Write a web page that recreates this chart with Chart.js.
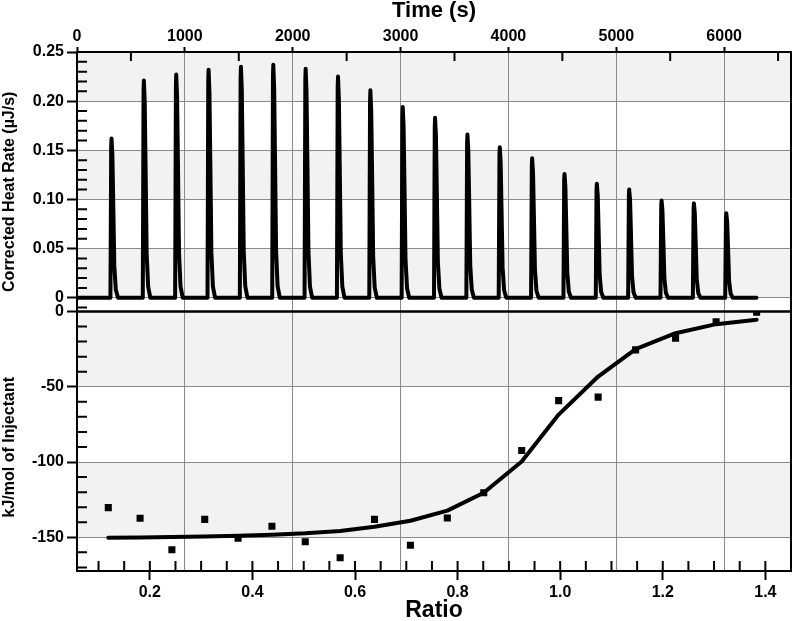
<!DOCTYPE html>
<html>
<head>
<meta charset="utf-8">
<script src="https://cdn.jsdelivr.net/npm/chart.js@4.4.1/dist/chart.umd.min.js"></script>
<style>
  html, body { margin: 0; padding: 0; background: #fff; }
</style>
</head>
<body>
<canvas id="itc" width="796" height="621"></canvas>
<script>
// raw thermogram: injection times (s) and peak heat rates (uJ/s)
var injTime = [320, 620, 920, 1220, 1520, 1820, 2120, 2420, 2720, 3020,
               3320, 3620, 3920, 4220, 4520, 4820, 5120, 5420, 5720, 6020];
var peakRate = [0.162, 0.221, 0.227, 0.232, 0.235, 0.237, 0.233, 0.225, 0.211, 0.194,
                0.183, 0.166, 0.153, 0.142, 0.126, 0.116, 0.110, 0.099, 0.096, 0.086];
var runEnd = 6300;

// integrated heats and fitted curve
var molarRatio = [0.119, 0.181, 0.243, 0.307, 0.372, 0.438, 0.503, 0.571, 0.638, 0.708,
                  0.780, 0.851, 0.925, 0.997, 1.074, 1.147, 1.225, 1.304, 1.383];
var injHeat = [-130.3, -137.4, -158.3, -138.1, -150.7, -142.7, -153.0, -163.6, -138.1, -155.3,
               -137.2, -120.4, -92.4, -59.2, -56.9, -25.5, -17.7, -6.8, -0.4];
var fitHeat = [-150.3, -150.1, -149.8, -149.4, -148.9, -148.3, -147.4, -145.8, -143.0, -139.0,
               -132.3, -120.4, -99.7, -68.5, -43.2, -25.0, -14.4, -8.4, -5.5];

// tick labels
var timeTicks = [0, 1000, 2000, 3000, 4000, 5000, 6000];
var rateTicks = [0, 0.05, 0.10, 0.15, 0.20, 0.25];
var kjTicks = [-150, -100, -50, 0];
var ratioTicks = [0.2, 0.4, 0.6, 0.8, 1.0, 1.2, 1.4];

// shape of a single injection spike (s after peak, fraction of peak)
var spikeDt = [-10, -3, 0, 8, 16, 26, 40, 60];
var spikeFrac = [0, 0.95, 1, 0.9, 0.6, 0.2, 0.05, 0];

var trace = [{x: 0, y: 0}];
injTime.forEach(function(t, i) {
    spikeDt.forEach(function(dt, k) {
        trace.push({x: t + dt, y: peakRate[i] * spikeFrac[k]});
    });
});
trace.push({x: runEnd, y: 0});

var heatPts = molarRatio.map(function(r, i) { return {x: r, y: injHeat[i]}; }),
    fitPts = molarRatio.map(function(r, i) { return {x: r, y: fitHeat[i]}; });

var FONT = 'Liberation Sans, Arial, Helvetica, sans-serif',
    tickFont = {family: FONT, size: 16, weight: 'bold'},
    gridGray = '#8a8a8a',
    bandGray = '#f2f2f2';

function setTicks(list) {
    return function(scale) {
        scale.ticks = list.map(function(v) { return {value: v}; });
    };
}

// alternating bands, frame, small inward ticks and the y titles
var itcFrame = {
    id: 'itcFrame',
    beforeDraw: function(chart) {
        var ctx = chart.ctx, a = chart.chartArea;
        ctx.save();
        ctx.fillStyle = '#fff';
        ctx.fillRect(0, 0, chart.width, chart.height);
        ctx.fillStyle = bandGray;
        [['yRate', rateTicks], ['yKj', kjTicks]].forEach(function(p) {
            var s = chart.scales[p[0]],
                vals = p[1].slice().sort(function(m, n) { return n - m; });
            for (var i = 0; i < vals.length; i += 2) {
                var y1 = s.getPixelForValue(vals[i]),
                    y2 = i + 1 < vals.length ? s.getPixelForValue(vals[i + 1]) : s.bottom;
                ctx.fillRect(a.left, y1, a.right - a.left, y2 - y1);
            }
        });
        ctx.restore();
    },
    afterDraw: function(chart) {
        var ctx = chart.ctx, a = chart.chartArea,
            sR = chart.scales.yRate, sK = chart.scales.yKj,
            sT = chart.scales.xTime, sX = chart.scales.xRatio, i, p;
        ctx.save();
        ctx.strokeStyle = '#000';
        ctx.lineWidth = 2;
        ctx.beginPath();
        for (i = -1; i <= 25; i++) {
            if (i % 5 === 0) continue;
            p = sR.getPixelForValue(i * 0.01);
            if (p < sR.top || p > sR.bottom) continue;
            ctx.moveTo(a.left, p); ctx.lineTo(a.left + 10, p);
        }
        for (i = -17; i <= 0; i++) {
            if (i % 5 === 0) continue;
            p = sK.getPixelForValue(i * 10);
            ctx.moveTo(a.left, p); ctx.lineTo(a.left + 10, p);
        }
        for (i = 500; i < 6620; i += 1000) {
            p = sT.getPixelForValue(i);
            ctx.moveTo(p, a.top); ctx.lineTo(p, a.top + 9);
        }
        for (i = 2; i <= 29; i++) {
            p = sX.getPixelForValue(i * 0.05);
            ctx.moveTo(p, a.bottom - 10); ctx.lineTo(p, a.bottom);
        }
        ctx.stroke();
        [sR, sK].forEach(function(s) {
            ctx.strokeRect(a.left, s.top, a.right - a.left, s.bottom - s.top);
        });

        // y titles sit a bit below the middle of each panel
        ctx.fillStyle = '#000';
        ctx.font = 'bold 16px ' + FONT;
        ctx.textAlign = 'center';
        ctx.textBaseline = 'middle';
        [[sR, 'Corrected Heat Rate (\u00b5J/s)', 10], [sK, 'kJ/mol of Injectant', 6]].forEach(function(t) {
            ctx.save();
            ctx.translate(10, (t[0].top + t[0].bottom) / 2 + t[2]);
            ctx.rotate(-Math.PI / 2);
            ctx.fillText(t[1], 0, 0);
            ctx.restore();
        });
        ctx.restore();
    }
};

new Chart(document.getElementById('itc').getContext('2d'), {
    type: 'line',
    data: {
        datasets: [
            {
                label: 'Heat rate',
                data: trace,
                xAxisID: 'xTime',
                yAxisID: 'yRate',
                borderColor: '#000',
                borderWidth: 4,
                borderJoinStyle: 'round',
                borderCapStyle: 'round',
                pointRadius: 0,
                // tiny tension keeps Chart.js off its per-pixel fast path
                tension: 0.0001
            },
            {
                label: 'Fit',
                data: fitPts,
                xAxisID: 'xRatio',
                yAxisID: 'yKj',
                borderColor: '#000',
                borderWidth: 4,
                borderJoinStyle: 'round',
                borderCapStyle: 'round',
                pointRadius: 0,
                tension: 0
            },
            {
                type: 'scatter',
                label: 'Injections',
                data: heatPts,
                xAxisID: 'xRatio',
                yAxisID: 'yKj',
                showLine: false,
                pointStyle: 'rect',
                pointRadius: 5,
                backgroundColor: '#000',
                borderWidth: 0
            }
        ]
    },
    options: {
        responsive: false,
        animation: false,
        devicePixelRatio: 1,
        layout: {padding: {left: 0, right: 3, top: 0, bottom: 0}},
        plugins: {legend: {display: false}, tooltip: {enabled: false}},
        scales: {
            xTime: {
                type: 'linear', axis: 'x', position: 'top',
                min: 0, max: 6620,
                afterBuildTicks: setTicks(timeTicks),
                afterFit: function(s) { s.height = 52; },
                border: {display: false},
                grid: {color: gridGray, lineWidth: 1, tickLength: 5, tickColor: '#000', tickWidth: 2},
                ticks: {font: tickFont, color: '#000', padding: 1, maxRotation: 0, autoSkip: false,
                        callback: function(v) { return String(v); }},
                title: {display: true, text: 'Time (s)', color: '#000', padding: 0,
                        font: {family: FONT, size: 22, weight: 'bold', lineHeight: 1}}
            },
            xRatio: {
                type: 'linear', axis: 'x', position: 'bottom',
                min: 0.058, max: 1.45,
                afterBuildTicks: setTicks(ratioTicks),
                afterFit: function(s) { s.height = 50; },
                border: {display: false},
                grid: {drawOnChartArea: false, tickLength: 9, tickColor: '#000', tickWidth: 2},
                ticks: {font: tickFont, color: '#000', padding: 3, maxRotation: 0, autoSkip: false,
                        callback: function(v) { return v.toFixed(1); }},
                title: {display: true, text: 'Ratio', color: '#000', padding: 0,
                        font: {family: FONT, size: 23, weight: 'bold', lineHeight: 0.9}}
            },
            yKj: {
                type: 'linear', axis: 'y', position: 'left',
                stack: 'panels', stackWeight: 1,
                min: -172.4, max: 0,
                afterBuildTicks: setTicks(kjTicks),
                afterFit: function(s) { s.width = 77; },
                border: {display: false},
                grid: {color: gridGray, lineWidth: 1, tickLength: 10, tickColor: '#000', tickWidth: 2},
                ticks: {font: tickFont, color: '#000', padding: 3, autoSkip: false,
                        callback: function(v) { return String(v); }}
            },
            yRate: {
                type: 'linear', axis: 'y', position: 'left',
                stack: 'panels', stackWeight: 1,
                min: -0.014, max: 0.25,
                afterBuildTicks: setTicks(rateTicks),
                afterFit: function(s) { s.width = 77; },
                border: {display: false},
                grid: {color: gridGray, lineWidth: 1, tickLength: 10, tickColor: '#000', tickWidth: 2},
                ticks: {font: tickFont, color: '#000', padding: 3, autoSkip: false,
                        callback: function(v) { return v === 0 ? '0' : v.toFixed(2); }}
            }
        }
    },
    plugins: [itcFrame]
});
</script>
</body>
</html>
